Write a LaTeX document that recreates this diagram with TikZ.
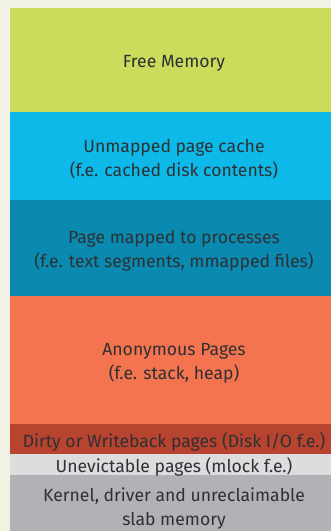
\documentclass[tikz,border=0pt]{standalone}
\usepackage{fontspec}
\setmainfont{Fira Sans}
\definecolor{bgc}{HTML}{F1F2E4}
\definecolor{freec}{HTML}{CBDB5C}
\definecolor{unmc}{HTML}{0DB9E8}
\definecolor{mapc}{HTML}{0A8AB0}
\definecolor{anonc}{HTML}{F47450}
\definecolor{dirtyc}{HTML}{B8432E}
\definecolor{unevc}{HTML}{DCDDDE}
\definecolor{kernc}{HTML}{B1B2B5}
\definecolor{txtc}{HTML}{2E3033}
\tikzset{
  lbl/.style={text=txtc, align=center, font=\fontsize{17.6}{24}\selectfont, inner sep=0pt},
}
\begin{document}
\begin{tikzpicture}[x=1pt,y=-1pt]
\fill[bgc] (0,0) rectangle (331,531);
\useasboundingbox (0,0) rectangle (331,531);
\fill[freec] (10,8) rectangle (331,112);
\fill[unmc] (10,112) rectangle (331,200);
\fill[mapc] (10,200) rectangle (331,296);
\fill[anonc] (10,296) rectangle (331,424);
\fill[dirtyc] (10,424) rectangle (331,454);
\fill[unevc] (10,454) rectangle (331,475);
\fill[kernc] (10,475) rectangle (331,531);
\node[lbl] (free) at (174,63.5) {Free Memory};
\node[lbl] (unm) at (174,159.5) {Unmapped page cache\\(f.e. cached disk contents)};
\node[lbl] (map) at (174,251) {Page mapped to processes\\(f.e. text segments, mmapped files)};
\node[lbl] (anon) at (174,363.5) {Anonymous Pages\\(f.e. stack, heap)};
\node[lbl] (dirty) at (174,442) {Dirty or Writeback pages (Disk I/O f.e.)};
\node[lbl] (unev) at (174,467) {Unevictable pages (mlock f.e.)};
\node[lbl] (kern) at (174,509) {Kernel, driver and unreclaimable\\slab memory};
\end{tikzpicture}
\end{document}
